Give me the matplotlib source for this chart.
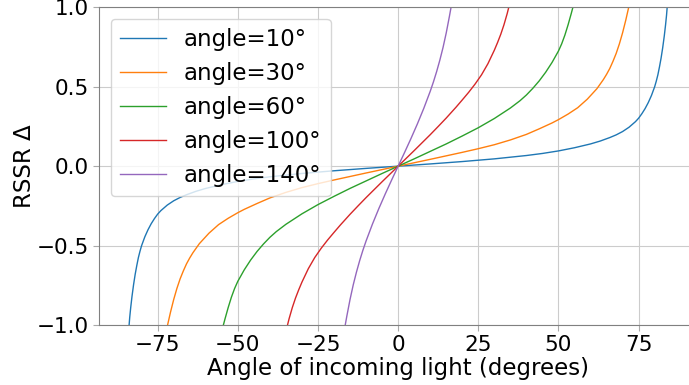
import matplotlib
matplotlib.use("Agg")
import matplotlib.pyplot as plt

# Readings of the RSSR curves (x in degrees, y = RSSR delta)
x_10 = [-83.9, -83.7, -83.4, -83.0, -82.5, -82.0, -81.5, -81.0, -80.5, -80.0, -79.0,
        -78.0, -77.0, -76.0, -75.0, -74.0, -72.0, -70.0, -68.0, -66.0, -63.0, -60.0,
        -55.0, -50.0, -45.0, -40.0, -30.0, -20.0, -10.0,
        0.0, 10.0, 20.0, 30.0, 40.0, 45.0, 50.0, 55.0, 60.0, 63.0, 66.0, 68.0, 70.0,
        72.0, 74.0, 75.0, 76.0, 77.0, 78.0, 79.0, 80.0, 80.5, 81.0, 81.5, 82.0, 82.5,
        83.0, 83.4, 83.7, 83.9]
y_10 = [-1.0, -0.95, -0.89, -0.82, -0.745, -0.68, -0.625, -0.575, -0.535, -0.5,
        -0.445, -0.40, -0.362, -0.33, -0.302, -0.28, -0.245, -0.218, -0.197, -0.18,
        -0.158, -0.14, -0.116, -0.096, -0.08, -0.067, -0.046, -0.029, -0.014,
        0.0, 0.014, 0.029, 0.046, 0.067, 0.08, 0.096, 0.116, 0.14, 0.158, 0.18, 0.197,
        0.218, 0.245, 0.28, 0.302, 0.33, 0.362, 0.40, 0.445, 0.5, 0.535, 0.575, 0.625,
        0.68, 0.745, 0.82, 0.89, 0.95, 1.0]

x_30 = [-71.9, -71.0, -70.0, -69.0, -68.0, -67.0, -66.0, -65.0, -64.0, -62.0, -59.0,
        -56.0, -53.0, -50.0, -48.0, -44.0, -40.0, -35.0, -30.0, -25.0, -20.0, -10.0,
        0.0, 10.0, 20.0, 25.0, 30.0, 35.0, 40.0, 44.0, 48.0, 50.0, 53.0, 56.0, 59.0,
        62.0, 64.0, 65.0, 66.0, 67.0, 68.0, 69.0, 70.0, 71.0, 71.9]
y_30 = [-1.0, -0.92, -0.84, -0.77, -0.71, -0.66, -0.615, -0.578, -0.545, -0.488,
        -0.422, -0.368, -0.328, -0.293, -0.272, -0.235, -0.2, -0.165, -0.135, -0.11,
        -0.087, -0.043,
        0.0, 0.043, 0.087, 0.11, 0.135, 0.165, 0.2, 0.235, 0.272, 0.293, 0.328, 0.368,
        0.422, 0.488, 0.545, 0.578, 0.615, 0.66, 0.71, 0.77, 0.84, 0.92, 1.0]

x_60 = [-54.5, -54.0, -53.0, -52.0, -51.0, -50.0, -48.0, -46.0, -44.0, -42.0, -40.0,
        -38.0, -35.0, -30.0, -25.0, -20.0, -15.0, -10.0, -5.0,
        0.0, 5.0, 10.0, 15.0, 20.0, 25.0, 30.0, 35.0, 38.0, 40.0, 42.0, 44.0, 46.0,
        48.0, 50.0, 51.0, 52.0, 53.0, 54.0, 54.5]
y_60 = [-1.0, -0.962, -0.89, -0.825, -0.77, -0.725, -0.653, -0.591, -0.537, -0.49,
        -0.448, -0.412, -0.366, -0.30, -0.242, -0.19, -0.14, -0.093, -0.046,
        0.0, 0.046, 0.093, 0.14, 0.19, 0.242, 0.30, 0.366, 0.412, 0.448, 0.49, 0.537,
        0.591, 0.653, 0.725, 0.77, 0.825, 0.89, 0.962, 1.0]

x_100 = [-34.5, -34.0, -33.0, -32.0, -31.0, -30.0, -28.0, -26.0, -24.0, -22.0, -20.0,
         -18.0, -15.0, -12.5, -10.0, -5.0,
         0.0, 5.0, 10.0, 12.5, 15.0, 18.0, 20.0, 22.0, 24.0, 26.0, 28.0, 30.0, 31.0,
         32.0, 33.0, 34.0, 34.5]
y_100 = [-1.0, -0.96, -0.89, -0.83, -0.778, -0.73, -0.645, -0.575, -0.517, -0.465,
         -0.417, -0.37, -0.303, -0.25, -0.198, -0.098,
         0.0, 0.098, 0.198, 0.25, 0.303, 0.37, 0.417, 0.465, 0.517, 0.575, 0.645, 0.73,
         0.778, 0.83, 0.89, 0.96, 1.0]

x_140 = [-16.5, -16.0, -15.0, -14.0, -13.0, -12.0, -11.0, -10.0, -8.0, -6.0, -4.0,
         -2.0, 0.0, 2.0, 4.0, 6.0, 8.0, 10.0, 11.0, 12.0, 13.0, 14.0, 15.0, 16.0, 16.5]
y_140 = [-1.0, -0.944, -0.839, -0.747, -0.667, -0.595, -0.53, -0.471, -0.364, -0.266,
         -0.174, -0.086, 0.0, 0.086, 0.174, 0.266, 0.364, 0.471, 0.53, 0.595, 0.667,
         0.747, 0.839, 0.944, 1.0]

labels = ["angle=10°", "angle=30°", "angle=60°", "angle=100°", "angle=140°"]
series = [(x_10, y_10), (x_30, y_30), (x_60, y_60), (x_100, y_100), (x_140, y_140)]
colors = ["#1f77b4", "#ff7f0e", "#2ca02c", "#d62728", "#9467bd"]

xticks = [-75, -50, -25, 0, 25, 50, 75]
yticks = [-1.0, -0.5, 0.0, 0.5, 1.0]

fig = plt.figure(figsize=(6.89, 3.85), dpi=100)
ax = fig.add_axes([0.1441, 0.1558, 0.8675, 0.8252])

for (xs, ys), lab, col in zip(series, labels, colors):
    ax.plot(xs, ys, color=col, lw=1.0, label=lab)

ax.set_xlim(-93.2, 93.2)
ax.set_ylim(-1.0, 1.0)
ax.set_xticks(xticks)
ax.set_yticks(yticks)
ax.set_yticklabels([f"{v:.1f}".replace("-", "\u2212") for v in yticks])
ax.grid(True, color="#cccccc", lw=0.8)
ax.set_axisbelow(True)
for sp in ax.spines.values():
    sp.set_color("#808080")
ax.tick_params(labelsize=15.5, colors="#aaaaaa", labelcolor="black", length=4)

ax.set_xlabel("Angle of incoming light (degrees)", fontsize=16.5, labelpad=1)
ax.set_ylabel("RSSR Δ", fontsize=16.5, labelpad=0.5)

ax.legend(loc="upper left", fontsize=16.5, handlelength=2.0, labelspacing=0.48,
          framealpha=0.8)

fig.savefig("out.png", dpi=100)
